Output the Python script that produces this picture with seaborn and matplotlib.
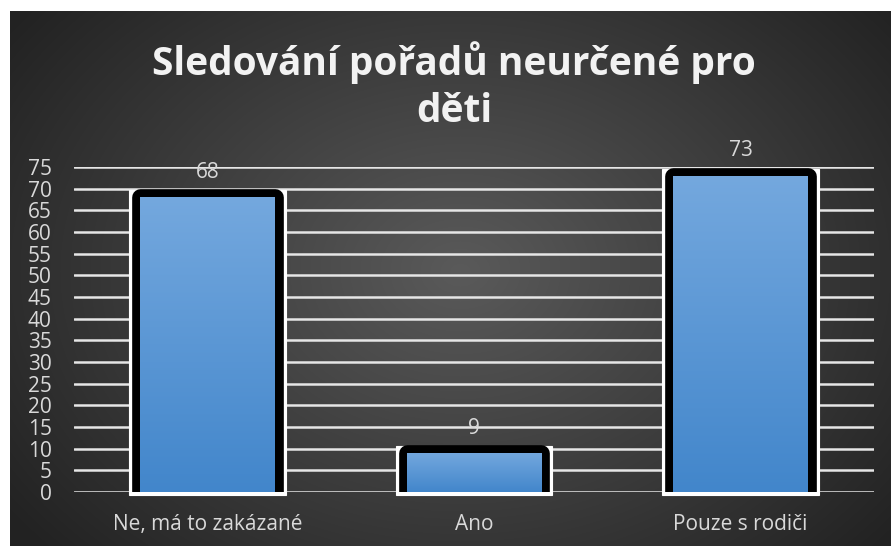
import matplotlib
matplotlib.use('Agg')
import matplotlib.pyplot as plt
from matplotlib.patches import Rectangle
import numpy as np
import pandas as pd
import seaborn as sns

categories = ['Ne, má to zakázané', 'Ano', 'Pouze s rodiči']
counts = [68, 9, 73]
y_ticks = list(range(0, 80, 5))

title = 'Sledování pořadů neurčené pro\nděti'

sns.set_theme(style='white')
plt.rcParams['font.family'] = ['Open Sans', 'DejaVu Sans']

W, H, DPI = 891, 546, 100
fig = plt.figure(figsize=(W / DPI, H / DPI), dpi=DPI, facecolor='white')

# dark radial gradient background
bg = fig.add_axes([10 / W, 0, (W - 10) / W, (H - 11) / H], zorder=0)
yy, xx = np.mgrid[0:535, 0:881]
r = np.sqrt(((xx - 450) / 560.0) ** 2 + ((yy - 260) / 420.0) ** 2)
r = np.clip(r, 0, 1)
shade = (0x5A - (0x5A - 0x22) * r) / 255.0
bg.imshow(np.dstack([shade, shade, shade]), aspect='auto', interpolation='bilinear')
bg.set_axis_off()

ax = fig.add_axes([74 / W, 1 - 492 / H, 800 / W, 325 / H], zorder=1)
ax.set_facecolor('none')

df = pd.DataFrame({'kategorie': categories, 'pocet': counts})
sns.barplot(data=df, x='kategorie', y='pocet', ax=ax, width=0.506,
            color='#5B9BD5', saturation=1, zorder=3)

ax.set_xlim(-0.5, 2.5)
ax.set_ylim(0, 75)
ax.set_yticks(y_ticks)
ax.yaxis.grid(True, color='#E6E6E6', linewidth=1.8)
ax.set_axisbelow(True)
for s in ax.spines.values():
    s.set_visible(False)
ax.tick_params(axis='both', length=0, labelsize=15, colors='#D9D9D9')
ax.tick_params(axis='y', pad=16)
ax.tick_params(axis='x', pad=16)
ax.set_xlabel('')
ax.set_ylabel('')

px_x = 1 / 266.7   # one pixel in x data units
px_y = 75 / 325.0  # one pixel in y data units

top_col = np.array([116, 168, 222]) / 255.0
bot_col = np.array([66, 134, 203]) / 255.0
grad = np.linspace(0, 1, 256)[:, None]
grad_img = top_col[None, None, :] * (1 - grad[:, :, None]) + bot_col[None, None, :] * grad[:, :, None]

for patch, val in zip(ax.patches, counts):
    x0 = patch.get_x()
    w = patch.get_width()
    h = patch.get_height()
    # white frame behind the rounded black border
    ax.add_patch(Rectangle((x0 - 11 * px_x, -0.7), w + 22 * px_x, h + 0.7 + 7 * px_y,
                           facecolor='white', edgecolor='white', linewidth=0.8,
                           zorder=2, clip_on=False))
    patch.set_facecolor('none')
    patch.set_edgecolor('black')
    patch.set_linewidth(12)
    patch.set_joinstyle('round')
    patch.set_zorder(3)
    im = ax.imshow(grad_img, extent=(x0, x0 + w, 0, h), aspect='auto', zorder=4,
                   interpolation='bilinear')
    im.set_clip_path(patch)
    ax.annotate(str(val), (x0 + w / 2, h), xytext=(0, 18), textcoords='offset points',
                ha='center', va='center', fontsize=15, color='#D9D9D9', zorder=5)

ax.set_xlim(-0.5, 2.5)
ax.set_ylim(0, 75)

fig.text(454 / W, 1 - 86 / H, title, ha='center', va='center', fontsize=28,
         fontweight='bold', color='#F2F2F2', linespacing=1.25, zorder=2)

plt.savefig('out.png', dpi=DPI, facecolor='white')
